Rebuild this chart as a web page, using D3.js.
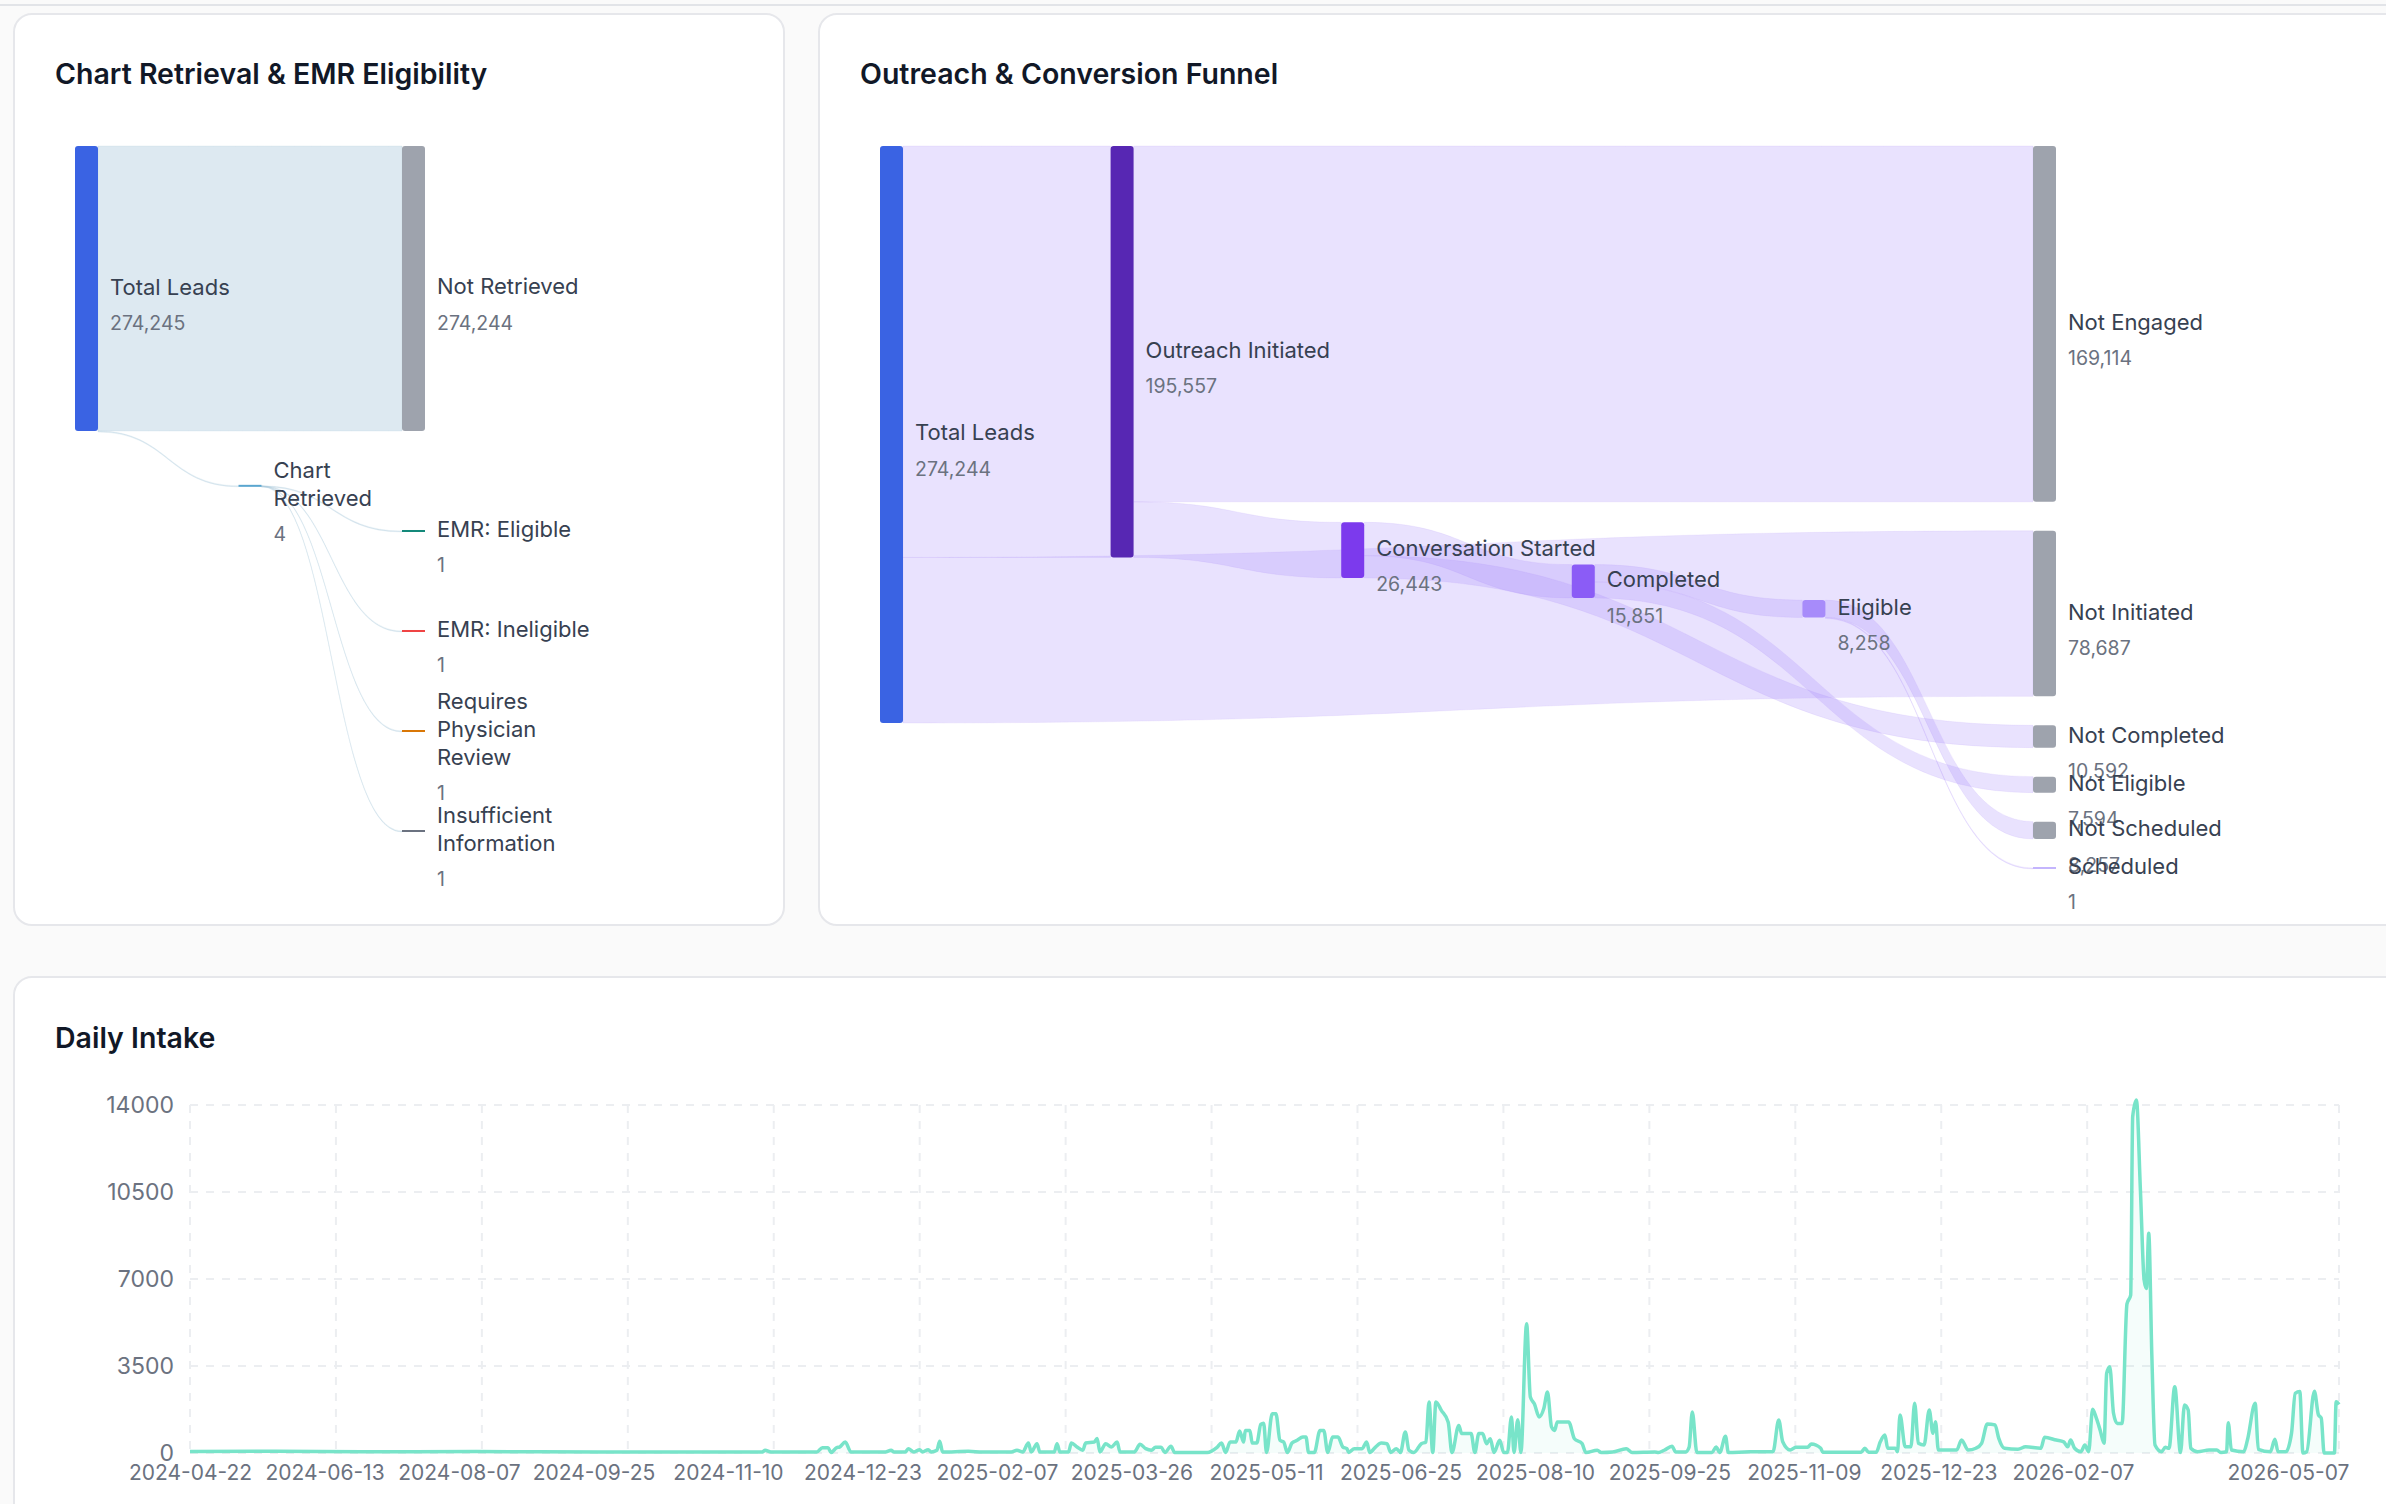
<!DOCTYPE html>
<html>
<head>
<meta charset="utf-8">
<script src="https://cdn.jsdelivr.net/npm/d3@7"></script>
<style>
  html, body { margin: 0; padding: 0; background: #fafafa; }
  body { width: 2386px; height: 1504px; overflow: hidden; font-family: Inter, "Noto Sans", sans-serif; }
  svg { display: block; }
</style>
</head>
<body>
<svg id="page" width="2386" height="1504"></svg>
<script>
// ---- data: chart retrieval sankey
const retrievalNodes = ['Total Leads', 'Chart Retrieved', 'Not Retrieved', 'EMR: Eligible', 'EMR: Ineligible', 'Requires Physician Review', 'Insufficient Information'];
const retrievalValues = [274245, 4, 274244, 1, 1, 1, 1];
const retrievalLinks = [
  ['Total Leads', 'Not Retrieved', 274244],
  ['Total Leads', 'Chart Retrieved', 4],
  ['Chart Retrieved', 'EMR: Eligible', 1],
  ['Chart Retrieved', 'EMR: Ineligible', 1],
  ['Chart Retrieved', 'Requires Physician Review', 1],
  ['Chart Retrieved', 'Insufficient Information', 1]
];
const retrievalColors = ['#3a63e3', '#5aa6cf', '#9ea3ad', '#14897a', '#ef4444', '#d97706', '#6b7280'];

// ---- data: outreach funnel sankey
const funnelNodes = ['Total Leads', 'Outreach Initiated', 'Not Engaged', 'Not Initiated', 'Conversation Started', 'Completed', 'Not Completed', 'Eligible', 'Not Eligible', 'Not Scheduled', 'Scheduled'];
const funnelValues = [274244, 195557, 169114, 78687, 26443, 15851, 10592, 8258, 7594, 8257, 1];
const funnelLinks = [
  ['Total Leads', 'Outreach Initiated', 195557],
  ['Total Leads', 'Not Initiated', 78687],
  ['Outreach Initiated', 'Not Engaged', 169114],
  ['Outreach Initiated', 'Conversation Started', 26443],
  ['Conversation Started', 'Completed', 15851],
  ['Conversation Started', 'Not Completed', 10592],
  ['Completed', 'Eligible', 8258],
  ['Completed', 'Not Eligible', 7594],
  ['Eligible', 'Not Scheduled', 8257],
  ['Eligible', 'Scheduled', 1]
];
const funnelColors = ['#3a63e3', '#5727b3', '#9ea3ad', '#9ea3ad', '#7c3aed', '#8b5cf6', '#9ea3ad', '#a78bfa', '#9ea3ad', '#9ea3ad', '#c4b5fd'];

// ---- data: daily intake (x = category index, 752 days)
const intakeTickLabels = ['2024-04-22', '2024-06-13', '2024-08-07', '2024-09-25', '2024-11-10', '2024-12-23', '2025-02-07', '2025-03-26', '2025-05-11', '2025-06-25', '2025-08-10', '2025-09-25', '2025-11-09', '2025-12-23', '2026-02-07', '2026-05-07'];
const intakeTickIndex = [0, 47, 94, 141, 188, 235, 282, 329, 376, 423, 470, 517, 564, 611, 658, 751];
const intakeGridIndex = [0, 51, 102, 153, 204, 255, 306, 357, 408, 459, 510, 561, 612, 663, 751];
const yTicks = [0, 3500, 7000, 10500, 14000];
const intakeX = [0, 30, 60, 100, 143, 200, 201, 203, 219, 221, 223, 224, 226, 227, 229, 231, 243, 245, 246, 250, 251, 253, 255, 256, 258, 259, 261, 262, 263, 272, 277, 287, 289, 291, 293, 294, 296, 297, 302, 303, 304, 307, 308, 310, 312, 313, 316, 317, 318, 320, 322, 324, 325, 330, 332, 334, 336,
  337.4, 339.4, 340.7, 342.8, 344.1, 355.5, 358.8, 360.5, 361.9, 363.5, 365.5, 366.8, 368.2, 368.8, 370.4, 371.2, 372.8, 374.2, 375.2, 376.2, 378.2, 379.5, 380.9, 382.2, 383.5, 385.1, 386.9, 388.9, 390, 390.9, 392.9, 394.9, 396.2, 397.6, 399.3, 401.2, 402.9, 404.3, 404.9, 406.9, 409.6, 411.2, 412.3, 414.3, 416.3, 418.3, 419.6, 421.6, 423, 424.7, 426, 427.7, 430.3, 431.9, 433, 434.3, 435.4, 437.3, 439.7, 441, 443.4, 444.4, 446.4, 447.7, 449, 450.4, 451.7, 453.1, 454.4, 455.7, 457.7, 459.1, 460.4, 461.8, 462.7, 464, 465.1, 467.1, 468.4, 469.8, 471.5, 473.1, 474.4, 475.8, 476.9, 477.8, 481.8, 483.8, 486.5, 487.8, 491.8, 493.2, 497.2, 501.9, 503.9, 511.9, 513.2, 515.2, 517.9, 519.2, 522.6, 523.9, 525, 526.6, 531.9, 533.3, 534.6, 536.6, 537.6,
  545, 553.2, 555.2, 556.6, 559.2, 561.2, 565.3, 566.6, 569.9, 570.6, 584, 585.3, 586.6, 589.3, 590.7, 592.3, 593.3, 596, 596.7, 597.6, 599.4, 601.4, 602.7, 604, 606, 607.8, 609.1, 610, 611, 617.4, 619.1, 621.4, 624.1, 626.1, 628.1, 630.8, 632.1, 634.1, 638.8, 641.5, 646.8, 648.1, 652.2, 654.8, 656.2, 657.2, 658.6, 660.8, 662.2, 663.5, 664.9, 666.2, 667.5, 668.9, 669.8, 670.9, 672.2, 673.5, 675.2, 676.9, 678.2, 678.9, 680.2, 681.6, 682.9, 683.7, 684.5, 685.6, 686.7, 689, 690.3, 691.6, 693.6, 695.6, 697, 698.3, 699.2, 701.6, 705.6, 708.3, 709.7, 711.7, 712.3, 713.4, 717.7, 719, 721.7, 722.8, 727, 728.6, 729.7, 732.4, 734.4, 735.7, 737.3, 738.4, 739.7, 742.4, 743.8, 744.8, 745.8, 748.4, 749.4, 750, 751];
const intakeValues = [60, 70, 50, 60, 40, 40, 110, 40, 40, 215, 215, 20, 215, 240, 440, 40, 40, 110, 40, 40, 175, 40, 135, 40, 135, 40, 110, 470, 40, 70, 40, 40, 110, 40, 400, 40, 375, 40, 40, 375, 40, 40, 400, 240, 110, 400, 440, 580, 40, 375, 240, 440, 40, 40, 350, 175, 110,
  230, 230, 20, 270, 20, 20, 215, 400, 20, 440, 440, 885, 440, 910, 910, 400, 400, 1150, 1200, 20, 1580, 1580, 510, 440, 20, 400, 510, 640, 640, 20, 20, 910, 910, 20, 640, 640, 240, 175, 20, 175, 175, 440, 20, 240, 400, 375, 20, 175, 20, 845, 110, 20, 375, 440, 2050, 20, 2050, 1715, 1240, 20, 1110, 780, 780, 780, 20, 780, 780, 375, 575, 20, 510, 20, 20, 1450, 20, 1340, 20, 5200, 2250, 1980, 1450, 1790, 2450, 1050, 910, 1250, 1250, 575, 375, 20, 110, 20, 40, 175, 20, 40, 20, 110, 270, 40, 40, 240, 1650, 20, 20, 240, 20, 670, 20,
  50, 50, 1330, 450, 120, 230, 230, 360, 190, 30, 30, 190, 30, 30, 450, 720, 190, 190, 50, 1530, 250, 250, 2000, 390, 320, 1730, 790, 1260, 120, 120, 520, 120, 190, 390, 1170, 1130, 590, 190, 150, 250, 190, 630, 520, 450, 250, 520, 190, 50, 320, 50, 1760, 1400, 930, 390, 3200, 3470, 1600, 1190, 1190, 6000, 6350, 13530, 14200, 10580, 6960, 6620, 8840, 3900, 320, 50, 230, 190, 2670, 20, 1930, 1730, 190, 50, 120, 120, 20, 50, 1220, 120, 50, 520, 2000, 150, 50, 550, 50, 50, 790, 2400, 2470, 0, 50, 2480, 1540, 1400, 0, 0, 0, 2060, 1950];

const svg = d3.select('#page');

// page frame
svg.append('line').attr('x1', 0).attr('x2', 2386).attr('y1', 5).attr('y2', 5).attr('stroke', '#e2e4e8').attr('stroke-width', 2);
function card(x, y, w, h) {
  svg.append('rect').attr('x', x).attr('y', y).attr('width', w).attr('height', h)
    .attr('rx', 18).attr('fill', '#fff').attr('stroke', '#e6e7eb').attr('stroke-width', 2);
}
card(14, 14, 770, 911);
card(819, 14, 1600, 911);
card(14, 977, 2400, 600);
function title(x, y, text) {
  svg.append('text').attr('x', x).attr('y', y).attr('fill', '#111827')
    .attr('font-size', 28.5).attr('font-weight', 600).text(text);
}
title(55, 84, 'Chart Retrieval & EMR Eligibility');
title(860, 84, 'Outreach & Conversion Funnel');
title(55, 1048, 'Daily Intake');

// ---- small sankey layout, same steps as d3-sankey (justify alignment, nodes keep input order)
function layoutSankey(names, linkRows, o) {
  const nodes = names.map((name, i) => ({ name, index: i, sourceLinks: [], targetLinks: [] }));
  const byName = new Map(nodes.map(n => [n.name, n]));
  const links = linkRows.map(([s, t, v], i) => {
    const l = { source: byName.get(s), target: byName.get(t), value: v, index: i };
    l.source.sourceLinks.push(l); l.target.targetLinks.push(l);
    return l;
  });
  nodes.forEach(n => n.value = Math.max(d3.sum(n.sourceLinks, l => l.value), d3.sum(n.targetLinks, l => l.value)));
  let current = new Set(nodes), next, x = 0;
  while (current.size) {
    next = new Set();
    for (const n of current) { n.depth = x; for (const l of n.sourceLinks) next.add(l.target); }
    current = next; x++;
  }
  const nCol = x;
  nodes.forEach(n => n.layer = n.sourceLinks.length ? n.depth : nCol - 1);
  const columns = d3.range(nCol).map(() => []);
  nodes.forEach(n => columns[n.layer].push(n));
  const kx = (o.x1 - o.x0 - o.dx) / (nCol - 1);
  nodes.forEach(n => { n.x0 = o.x0 + n.layer * kx; n.x1 = n.x0 + o.dx; });
  const py = o.py;
  const ky = d3.min(columns, c => (o.y1 - o.y0 - (c.length - 1) * py) / d3.sum(c, d => d.value));
  for (const c of columns) {
    let y = o.y0;
    for (const n of c) { n.y0 = y; n.y1 = y + n.value * ky; y = n.y1 + py; }
    y = (o.y1 - y + py) / (c.length + 1);
    c.forEach((n, i) => { n.y0 += y * (i + 1); n.y1 += y * (i + 1); });
  }
  links.forEach(l => l.width = l.value * ky);
  const byY = (a, b) => a.y0 - b.y0;
  const sortLinks = n => {
    n.sourceLinks.sort((a, b) => byY(a.target, b.target) || a.index - b.index);
    n.targetLinks.sort((a, b) => byY(a.source, b.source) || a.index - b.index);
  };
  nodes.forEach(sortLinks);
  function targetTop(source, target) {
    let y = source.y0 - (source.sourceLinks.length - 1) * py / 2;
    for (const l of source.sourceLinks) { if (l.target === target) break; y += l.width + py; }
    for (const l of target.targetLinks) { if (l.source === source) break; y -= l.width; }
    return y;
  }
  function sourceTop(source, target) {
    let y = target.y0 - (target.targetLinks.length - 1) * py / 2;
    for (const l of target.targetLinks) { if (l.source === source) break; y += l.width + py; }
    for (const l of source.sourceLinks) { if (l.target === target) break; y -= l.width; }
    return y;
  }
  function reorderNode(n) {
    for (const l of n.targetLinks) sortLinks(l.source);
    for (const l of n.sourceLinks) sortLinks(l.target);
  }
  function down(c, y, i, a) { for (; i < c.length; ++i) { const n = c[i]; const dy = (y - n.y0) * a; if (dy > 1e-6) { n.y0 += dy; n.y1 += dy; } y = n.y1 + py; } }
  function up(c, y, i, a) { for (; i >= 0; --i) { const n = c[i]; const dy = (n.y1 - y) * a; if (dy > 1e-6) { n.y0 -= dy; n.y1 -= dy; } y = n.y0 - py; } }
  function collide(c, a) {
    const i = c.length >> 1, s = c[i];
    up(c, s.y0 - py, i - 1, a); down(c, s.y1 + py, i + 1, a);
    up(c, o.y1, c.length - 1, a); down(c, o.y0, 0, a);
  }
  for (let it = 0; it < o.iterations; it++) {
    const alpha = Math.pow(0.99, it), beta = Math.max(1 - alpha, (it + 1) / o.iterations);
    for (let i = columns.length - 2; i >= 0; --i) {
      for (const s of columns[i]) {
        let y = 0, w = 0;
        for (const l of s.sourceLinks) { const v = l.value * (l.target.layer - s.layer); y += sourceTop(s, l.target) * v; w += v; }
        if (!(w > 0)) continue;
        const dy = (y / w - s.y0) * alpha; s.y0 += dy; s.y1 += dy; reorderNode(s);
      }
      collide(columns[i], beta);
    }
    for (let i = 1; i < columns.length; ++i) {
      for (const t of columns[i]) {
        let y = 0, w = 0;
        for (const l of t.targetLinks) { const v = l.value * (t.layer - l.source.layer); y += targetTop(l.source, t) * v; w += v; }
        if (!(w > 0)) continue;
        const dy = (y / w - t.y0) * alpha; t.y0 += dy; t.y1 += dy; reorderNode(t);
      }
      collide(columns[i], beta);
    }
  }
  nodes.forEach(sortLinks);
  for (const n of nodes) {
    let y0 = n.y0, y1 = n.y0;
    for (const l of n.sourceLinks) { l.sy = y0; y0 += l.width; }
    for (const l of n.targetLinks) { l.ty = y1; y1 += l.width; }
  }
  return { nodes, links };
}

function ribbon(l) {
  const x0 = l.source.x1, x1 = l.target.x0, xi = d3.interpolateNumber(x0, x1);
  const c0 = xi(0.5), c1 = xi(0.5);
  const w = Math.max(l.width, 1);
  return `M${x0},${l.sy}C${c0},${l.sy} ${c1},${l.ty} ${x1},${l.ty}` +
    `L${x1},${l.ty + w}C${c1},${l.ty + w} ${c0},${l.sy + w} ${x0},${l.sy + w}Z`;
}

function drawSankey(names, values, linkRows, colors, o) {
  const g = svg.append('g');
  const { nodes, links } = layoutSankey(names, linkRows, o);
  const color = d3.scaleOrdinal(names, colors);
  const shown = new Map(names.map((n, i) => [n, values[i]]));
  g.append('g').selectAll('path').data(links).join('path')
    .attr('d', ribbon).attr('fill', o.linkColor).attr('fill-opacity', o.linkOpacity)
    .attr('stroke', o.linkColor).attr('stroke-opacity', o.linkOpacity * 0.6).attr('stroke-width', 0.8);
  g.append('g').selectAll('rect').data(nodes).join('rect')
    .attr('x', d => d.x0).attr('width', d => d.x1 - d.x0)
    .attr('y', d => (d.y0 + d.y1) / 2 - Math.max(d.y1 - d.y0, 2) / 2)
    .attr('height', d => Math.max(d.y1 - d.y0, 2))
    .attr('rx', d => d.y1 - d.y0 > 6 ? 3 : 0)
    .attr('fill', d => color(d.name));
  const fmt = d3.format(',');
  nodes.forEach(d => {
    const maxW = d.layer === 0 ? 999 : (o.wrap ? o.wrap(d) : 999);
    const words = d.name.split(' ');
    const lines = [];
    const probe = g.append('text').attr('font-size', 22);
    let line = '';
    words.forEach(wd => {
      const test = line ? line + ' ' + wd : wd;
      probe.text(test);
      if (line && probe.node().getComputedTextLength() > maxW) { lines.push(line); line = wd; } else line = test;
    });
    lines.push(line);
    probe.remove();
    const cy = (d.y0 + d.y1) / 2 - (lines.length - 1) * 14;
    const tx = d.x1 + 12;
    const t = g.append('text').attr('font-size', 22).attr('fill', '#374151').attr('dominant-baseline', 'middle');
    lines.forEach((ln, i) => t.append('tspan').attr('x', tx).attr('y', cy + i * 28).text(ln));
    g.append('text').attr('x', tx).attr('y', cy + (lines.length - 1) * 28 + 36)
      .attr('dominant-baseline', 'middle').attr('font-size', 19.5).attr('fill', '#6b7280').text(fmt(shown.get(d.name)));
  });
}

drawSankey(retrievalNodes, retrievalValues, retrievalLinks, retrievalColors, {
  x0: 75, x1: 425, y0: 146, y1: 831, dx: 23, py: 100, iterations: 6,
  linkColor: '#a9c9dc', linkOpacity: 0.4,
  wrap: d => d.layer === 1 ? 110 : 170
});
drawSankey(funnelNodes, funnelValues, funnelLinks, funnelColors, {
  x0: 880, x1: 2056, y0: 146, y1: 868, dx: 23, py: 29, iterations: 6,
  linkColor: '#a78bfa', linkOpacity: 0.25
});

// ---- daily intake line
const plot = { left: 190, right: 2339, top: 1105, bottom: 1453 };
const x = d3.scaleLinear().domain([0, 751]).range([plot.left, plot.right]);
const y = d3.scaleLinear().domain([0, 14000]).range([plot.bottom, plot.top]);
const lg = svg.append('g');
lg.append('g').selectAll('line').data(intakeGridIndex).join('line')
  .attr('x1', d => x(d)).attr('x2', d => x(d)).attr('y1', plot.top).attr('y2', plot.bottom)
  .attr('stroke', '#eceef1').attr('stroke-width', 2).attr('stroke-dasharray', '8,8');
lg.append('g').selectAll('line').data(yTicks).join('line')
  .attr('x1', plot.left).attr('x2', plot.right).attr('y1', d => y(d)).attr('y2', d => y(d))
  .attr('stroke', '#eceef1').attr('stroke-width', 2).attr('stroke-dasharray', '8,8');
const yAxis = lg.append('g').attr('transform', `translate(${plot.left},0)`)
  .call(d3.axisLeft(y).tickValues(yTicks).tickSize(0).tickPadding(16).tickFormat(d3.format('d')));
yAxis.select('.domain').remove();
yAxis.selectAll('text').attr('font-size', 23).attr('fill', '#6b7280').attr('font-family', 'Inter, sans-serif');
const xAxis = lg.append('g').attr('transform', `translate(0,${plot.bottom})`)
  .call(d3.axisBottom(x).tickValues(intakeTickIndex).tickSize(0).tickPadding(12)
    .tickFormat((d, i) => intakeTickLabels[i]));
xAxis.select('.domain').remove();
xAxis.selectAll('text').attr('font-size', 21).attr('fill', '#6b7280').attr('font-family', 'Inter, sans-serif');
xAxis.selectAll('.tick:last-child text').attr('text-anchor', 'end').attr('dx', 10);

const pts = intakeX.map((d, i) => [d, intakeValues[i]]);
lg.append('path').datum(pts)
  .attr('d', d3.area().x(d => x(d[0])).y0(plot.bottom).y1(d => y(d[1])).curve(d3.curveMonotoneX))
  .attr('fill', '#7ae3c9').attr('fill-opacity', 0.08);
lg.append('path').datum(pts)
  .attr('d', d3.line().x(d => x(d[0])).y(d => y(d[1])).curve(d3.curveMonotoneX))
  .attr('fill', 'none').attr('stroke', '#78e4c9').attr('stroke-width', 3.5).attr('stroke-linejoin', 'round');
</script>
</body>
</html>
